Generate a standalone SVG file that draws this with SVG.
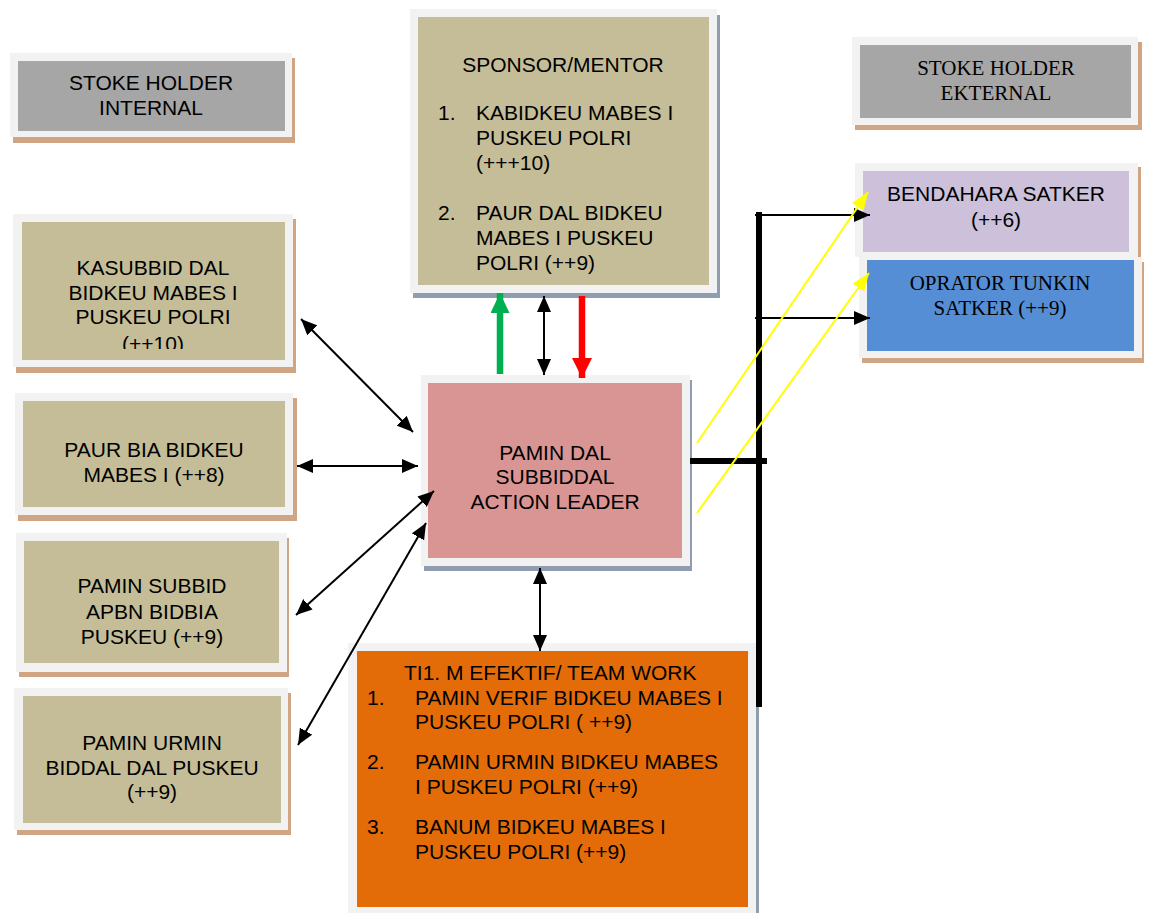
<svg xmlns="http://www.w3.org/2000/svg" width="1149" height="913" viewBox="0 0 1149 913">
<style>
.frame{fill:#F2F2F2}
.st{fill:#D0A584}
.sg{fill:#8F9DB0}
.t{font-family:"Liberation Sans",Arial,sans-serif;font-size:21px;fill:#000}
.s{font-family:"Liberation Serif","Times New Roman",serif;font-size:21px;fill:#000}
.c{text-anchor:middle}
.thin{stroke:#000;stroke-width:2;fill:none}
.yel{stroke:#FFFF00;stroke-width:2;fill:none}
</style>
<defs>
<marker id="ah" viewBox="0 0 16 14" refX="16" refY="7" markerWidth="16" markerHeight="14" markerUnits="userSpaceOnUse" orient="auto-start-reverse">
<path d="M0,0 L16,7 L0,14 z" fill="#000"/>
</marker>
<marker id="ay" viewBox="0 0 18 14" refX="18" refY="7" markerWidth="18" markerHeight="14" markerUnits="userSpaceOnUse" orient="auto">
<path d="M0,0 L18,7 L0,14 z" fill="#FFFF00"/>
</marker>
<marker id="ag" viewBox="0 0 20 19" refX="20" refY="9.5" markerWidth="20" markerHeight="19" markerUnits="userSpaceOnUse" orient="auto">
<path d="M0,0 L20,9.5 L0,19 z" fill="#00B050"/>
</marker>
<marker id="ar" viewBox="0 0 20 20" refX="20" refY="10" markerWidth="20" markerHeight="20" markerUnits="userSpaceOnUse" orient="auto">
<path d="M0,0 L20,10 L0,20 z" fill="#FF0000"/>
</marker>
<clipPath id="kclip"><rect x="22" y="222" width="263" height="127"/></clipPath>
</defs>

<g id="stoke-internal">
<rect class="st" x="13" y="58" width="282" height="85"/>
<rect class="frame" x="10" y="53" width="282" height="84"/>
<rect x="18" y="61" width="267" height="70" fill="#A6A6A6"/>
<text class="t c" x="151" y="90">STOKE HOLDER</text>
<text class="t c" x="151" y="115">INTERNAL</text>
</g>

<g id="sponsor">
<rect class="sg" x="413" y="15" width="307" height="283"/>
<rect class="frame" x="410" y="9" width="307" height="284"/>
<rect x="418" y="17" width="291" height="268" fill="#C4BD97"/>
<text class="t c" x="563" y="72">SPONSOR/MENTOR</text>
<text class="t" x="438" y="120">1.</text>
<text class="t" x="476" y="120">KABIDKEU MABES I</text>
<text class="t" x="476" y="145">PUSKEU POLRI</text>
<text class="t" x="476" y="170">(+++10)</text>
<text class="t" x="438" y="220">2.</text>
<text class="t" x="476" y="220">PAUR DAL BIDKEU</text>
<text class="t" x="476" y="245">MABES I PUSKEU</text>
<text class="t" x="476" y="270">POLRI (++9)</text>
</g>

<g id="stoke-eksternal">
<rect class="st" x="855" y="42" width="287" height="88"/>
<rect class="frame" x="852" y="37" width="286" height="88"/>
<rect x="860" y="45" width="271" height="73" fill="#A6A6A6"/>
<text class="s c" x="996" y="75">STOKE HOLDER</text>
<text class="s c" x="996" y="100">EKTERNAL</text>
</g>

<g id="bendahara">
<rect class="st" x="858" y="167" width="283" height="90"/>
<rect class="frame" x="855" y="163" width="283" height="94"/>
<rect x="863" y="171" width="266" height="81" fill="#CCC0DA"/>
<text class="t c" x="996" y="201">BENDAHARA SATKER</text>
<text class="t c" x="996" y="227">(++6)</text>
</g>

<g id="oprator">
<rect class="st" x="862" y="262" width="282" height="101"/>
<rect class="frame" x="859" y="257" width="283" height="101"/>
<rect x="867" y="260" width="267" height="91" fill="#558ED5"/>
<text class="s c" x="1000" y="290">OPRATOR TUNKIN</text>
<text class="s c" x="1000" y="315">SATKER (++9)</text>
</g>

<g id="kasubbid">
<rect class="st" x="16" y="219" width="280" height="154"/>
<rect class="frame" x="13" y="214" width="280" height="153"/>
<rect x="22" y="222" width="263" height="138" fill="#C4BD97"/>
<text class="t c" x="153" y="275">KASUBBID DAL</text>
<text class="t c" x="153" y="300">BIDKEU MABES I</text>
<text class="t c" x="153" y="324">PUSKEU POLRI</text>
<text class="t c" x="153" y="351" clip-path="url(#kclip)">(++10)</text>
</g>

<g id="paur-bia">
<rect class="st" x="18" y="398" width="279" height="123"/>
<rect class="frame" x="15" y="393" width="278" height="122"/>
<rect x="23" y="401" width="262" height="106" fill="#C4BD97"/>
<text class="t c" x="154" y="457">PAUR BIA BIDKEU</text>
<text class="t c" x="154" y="482">MABES I (++8)</text>
</g>

<g id="pamin-subbid">
<rect class="st" x="19" y="538" width="270" height="139"/>
<rect class="frame" x="16" y="533" width="271" height="139"/>
<rect x="24" y="541" width="255" height="122" fill="#C4BD97"/>
<text class="t c" x="152" y="593">PAMIN SUBBID</text>
<text class="t c" x="152" y="619">APBN BIDBIA</text>
<text class="t c" x="152" y="644">PUSKEU (++9)</text>
</g>

<g id="pamin-urmin">
<rect class="st" x="17" y="693" width="274" height="142"/>
<rect class="frame" x="14" y="688" width="274" height="142"/>
<rect x="23" y="696" width="258" height="127" fill="#C4BD97"/>
<text class="t c" x="152" y="750">PAMIN URMIN</text>
<text class="t c" x="152" y="775">BIDDAL DAL PUSKEU</text>
<text class="t c" x="152" y="799">(++9)</text>
</g>

<g id="action-leader">
<rect class="sg" x="424" y="380" width="268" height="191"/>
<rect class="frame" x="421" y="375" width="269" height="191"/>
<rect x="428" y="383" width="254" height="175" fill="#D99594"/>
<text class="t c" x="555" y="460">PAMIN DAL</text>
<text class="t c" x="555" y="484">SUBBIDDAL</text>
<text class="t c" x="555" y="509">ACTION LEADER</text>
</g>

<g id="team-work">
<rect class="sg" x="351" y="648" width="408" height="270"/>
<rect class="frame" x="348" y="643" width="408" height="275"/>
<rect x="357" y="651" width="391" height="256" fill="#E36C09"/>
<text class="t" x="404" y="680">TI1. M EFEKTIF/ TEAM WORK</text>
<text class="t" x="367" y="705">1.</text>
<text class="t" x="415" y="705">PAMIN VERIF BIDKEU MABES I</text>
<text class="t" x="415" y="729">PUSKEU POLRI ( ++9)</text>
<text class="t" x="367" y="769">2.</text>
<text class="t" x="415" y="769">PAMIN URMIN BIDKEU MABES</text>
<text class="t" x="415" y="794">I PUSKEU POLRI (++9)</text>
<text class="t" x="367" y="834">3.</text>
<text class="t" x="415" y="834">BANUM BIDKEU MABES I</text>
<text class="t" x="415" y="859">PUSKEU POLRI (++9)</text>
</g>

<g id="connectors">
<line x1="500" y1="374" x2="500" y2="293" stroke="#00B050" stroke-width="6.5" marker-end="url(#ag)"/>
<line x1="544" y1="296" x2="544" y2="375" class="thin" marker-start="url(#ah)" marker-end="url(#ah)"/>
<line x1="582" y1="296" x2="582" y2="378" stroke="#FF0000" stroke-width="6.5" marker-end="url(#ar)"/>
<line x1="301" y1="319" x2="413" y2="432" class="thin" marker-start="url(#ah)" marker-end="url(#ah)"/>
<line x1="297" y1="466" x2="418" y2="466" class="thin" marker-start="url(#ah)" marker-end="url(#ah)"/>
<line x1="296" y1="615" x2="434" y2="491" class="thin" marker-start="url(#ah)" marker-end="url(#ah)"/>
<line x1="298" y1="745" x2="426" y2="523" class="thin" marker-start="url(#ah)" marker-end="url(#ah)"/>
<line x1="540" y1="568" x2="540" y2="651" class="thin" marker-start="url(#ah)" marker-end="url(#ah)"/>
<line x1="759" y1="212" x2="759" y2="707" stroke="#000" stroke-width="6"/>
<line x1="690" y1="461" x2="767" y2="461" stroke="#000" stroke-width="6"/>
<line x1="755" y1="215" x2="870" y2="215" class="thin" marker-end="url(#ah)"/>
<line x1="755" y1="318" x2="870" y2="318" class="thin" marker-end="url(#ah)"/>
<line x1="697" y1="443" x2="868" y2="192" class="yel" marker-end="url(#ay)"/>
<line x1="697" y1="513" x2="869" y2="273" class="yel" marker-end="url(#ay)"/>
</g>
</svg>
